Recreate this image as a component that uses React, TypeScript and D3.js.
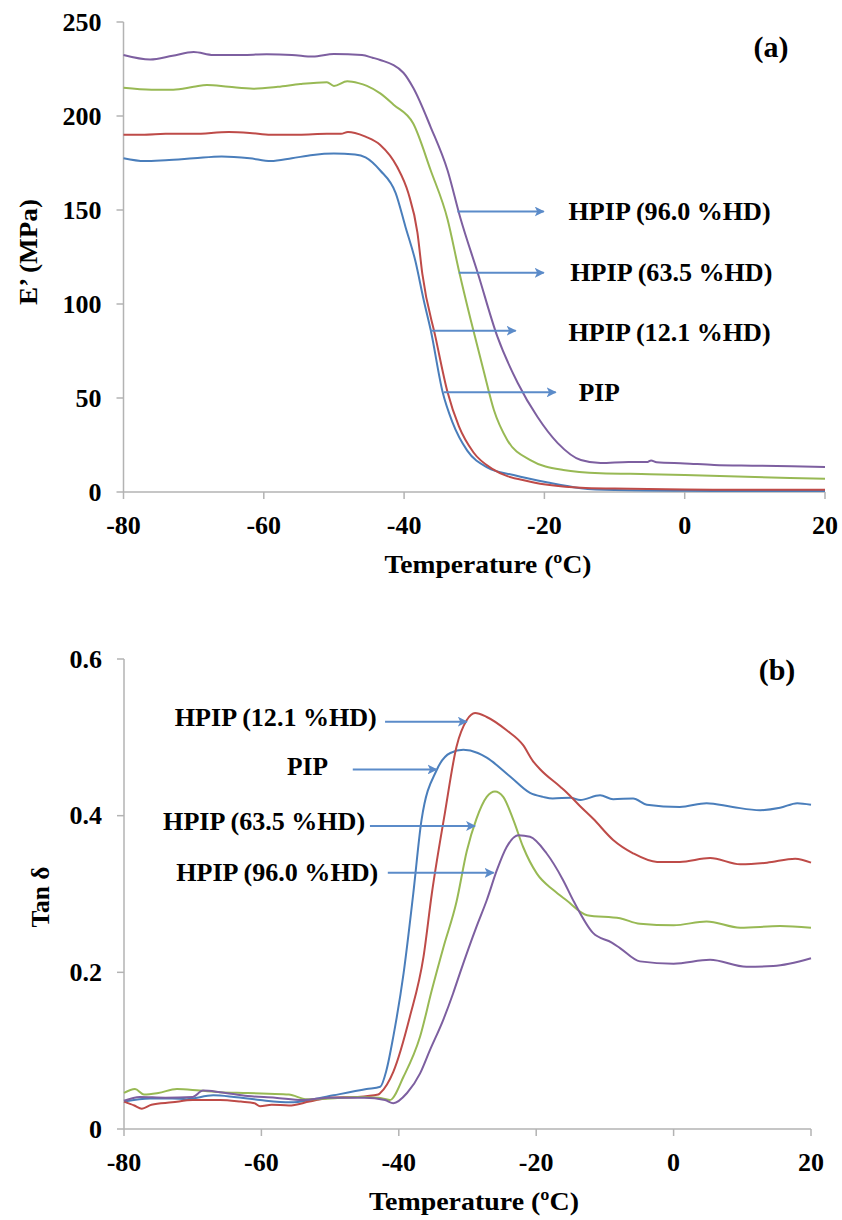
import React from "react";
import * as d3 from "d3";

// ---------- data ----------
const tempTicks = [-80, -60, -40, -20, 0, 20];
const modulusTicks = [0, 50, 100, 150, 200, 250];
const tanTicks = [0, 0.2, 0.4, 0.6];
const tanTickLabels = ["0", "0.2", "0.4", "0.6"];

const seriesNames = ["PIP", "HPIP (12.1 %HD)", "HPIP (63.5 %HD)", "HPIP (96.0 %HD)"];
const seriesColors = ["#4a7ebb", "#be4b48", "#98b954", "#7d5fa0"];

// E' (MPa) vs temperature: [T, E']
const modulusPIP: [number, number][] = [
  [-80, 177.5], [-77, 176], [-74, 176.5], [-70, 177.5], [-66, 178.5], [-62, 177.5], [-59, 176], [-56, 177.5],
  [-53, 179.3], [-50, 180], [-47, 179.5], [-45.5, 178], [-43.4, 171], [-41.2, 159], [-39.8, 141], [-38.4, 123],
  [-37.2, 102], [-36.2, 86], [-34.5, 53], [-33.1, 37], [-31, 22], [-28.1, 13], [-24.4, 9], [-19.5, 5],
  [-14.8, 2], [-10, 1], [0, 0.6], [10, 0.5], [20, 0.5],
];
const modulus121: [number, number][] = [
  [-80, 190], [-77, 190], [-74, 190.5], [-70, 190.5], [-65, 191.5], [-62, 191], [-59, 190], [-55, 190],
  [-51, 190.5], [-49, 190.5], [-48, 191.5], [-47, 191], [-45.5, 189], [-43.4, 184.6], [-41, 173], [-39.4, 159],
  [-38.1, 138], [-37.4, 116], [-35.5, 82], [-33.8, 53], [-32.2, 35], [-30.1, 21], [-27.3, 12], [-22, 5.5],
  [-14.8, 2.3], [-10, 1.8], [0, 1.3], [10, 1.2], [20, 1.2],
];
const modulus635: [number, number][] = [
  [-80, 215], [-76, 214], [-72.9, 214], [-70, 215.5], [-68.1, 216.5], [-65, 215.5], [-61.5, 214.5], [-58, 215.5],
  [-54.8, 217], [-51, 218], [-50, 216], [-48.1, 218.5], [-46.5, 217.5], [-45.3, 216], [-43.4, 212], [-41.5, 206],
  [-38.7, 196], [-36.2, 171], [-33.8, 145], [-32.2, 118], [-30.5, 91.5], [-28.7, 65], [-27.2, 43.6], [-25.3, 27.7],
  [-22, 17], [-17.3, 11.7], [-12, 10], [-5, 9.5], [0, 9], [10, 8], [20, 7],
];
const modulus960: [number, number][] = [
  [-80, 232.4], [-76.2, 230], [-73, 232], [-70, 234], [-67.2, 232.4], [-63, 232.5], [-59.6, 232.8], [-56, 232.5],
  [-53, 231.6], [-50, 233], [-46, 232.4], [-44.5, 231], [-43.4, 229.8], [-40.1, 223], [-38.7, 215], [-36.2, 194],
  [-33.8, 171], [-32, 146], [-29.5, 116.5], [-26.7, 82.6], [-23.8, 58], [-21, 40], [-18.1, 26], [-14.8, 17],
  [-12, 15.4], [-8, 16], [-5.3, 16], [-4.8, 16.8], [-4, 15.8], [0, 15.2], [4.2, 14.4], [10, 14], [20, 13.3],
];

// Tan delta vs temperature: [T, tan δ]
const tanPIP: [number, number][] = [
  [-80, 0.035], [-76.2, 0.039], [-73, 0.039], [-70.9, 0.038], [-67, 0.043], [-64, 0.041], [-60.2, 0.037],
  [-55.8, 0.034], [-52.4, 0.038], [-49.5, 0.043], [-44.7, 0.051], [-42.7, 0.054], [-41.8, 0.075], [-40.8, 0.118],
  [-39.3, 0.199], [-37.9, 0.3], [-36.7, 0.394], [-34.5, 0.458], [-32.5, 0.48], [-30.6, 0.484], [-28.5, 0.48],
  [-27.2, 0.474], [-23.8, 0.45], [-20.9, 0.429], [-19, 0.424], [-17.6, 0.422], [-15, 0.423], [-13.6, 0.42],
  [-10.7, 0.426], [-8.8, 0.421], [-5.9, 0.422], [-3.9, 0.414], [0.9, 0.411], [4.8, 0.416], [8.6, 0.411],
  [12.6, 0.407], [15.5, 0.41], [18, 0.416], [20, 0.414],
];
const tan121: [number, number][] = [
  [-80, 0.035], [-78.5, 0.03], [-77.4, 0.026], [-76, 0.031], [-73, 0.034], [-70, 0.037], [-66, 0.037],
  [-63, 0.035], [-61, 0.033], [-60.2, 0.029], [-58.5, 0.031], [-56, 0.03], [-53, 0.035], [-50, 0.04],
  [-46, 0.041], [-43, 0.044], [-42.7, 0.046], [-40.8, 0.073], [-38.4, 0.143], [-36.4, 0.22], [-35.2, 0.3],
  [-33.3, 0.403], [-31.6, 0.488], [-30.1, 0.522], [-28.9, 0.531], [-27.2, 0.526], [-24.3, 0.509], [-21.9, 0.49],
  [-20.5, 0.47], [-19.4, 0.459], [-16.5, 0.437], [-15.6, 0.43], [-13.6, 0.412], [-11.7, 0.396], [-8.8, 0.369],
  [-5.9, 0.352], [-2.4, 0.341], [0.9, 0.341], [5.3, 0.346], [9.7, 0.338], [13.6, 0.34], [17.7, 0.345], [20, 0.34],
];
const tan635: [number, number][] = [
  [-80, 0.046], [-78.4, 0.051], [-77.1, 0.044], [-75, 0.046], [-72.3, 0.051], [-69, 0.049], [-66, 0.047],
  [-62, 0.046], [-59, 0.045], [-56, 0.044], [-53.4, 0.038], [-50, 0.039], [-46, 0.041], [-43, 0.04],
  [-41.3, 0.037], [-39.3, 0.067], [-36.9, 0.118], [-35.2, 0.177], [-33.5, 0.232], [-31.6, 0.29], [-30.1, 0.355],
  [-28.7, 0.396], [-27.2, 0.424], [-26, 0.431], [-24.8, 0.424], [-23.3, 0.394], [-21.9, 0.36], [-19.9, 0.326],
  [-17.5, 0.305], [-15.6, 0.292], [-12.6, 0.273], [-7.8, 0.269], [-4.9, 0.262], [0, 0.26], [4.8, 0.265],
  [9.7, 0.257], [15.5, 0.259], [20, 0.257],
];
const tan960: [number, number][] = [
  [-80, 0.036], [-77.7, 0.041], [-74, 0.04], [-70, 0.041], [-68.5, 0.049], [-66, 0.047], [-62, 0.042],
  [-58, 0.04], [-54, 0.037], [-50, 0.04], [-45, 0.04], [-42, 0.037], [-40.8, 0.033], [-38.8, 0.046],
  [-36.9, 0.071], [-35.5, 0.1], [-33.5, 0.14], [-32.1, 0.173], [-31.1, 0.199], [-28.7, 0.258], [-27.2, 0.292],
  [-25.7, 0.331], [-24.3, 0.36], [-22.6, 0.375], [-20.9, 0.373], [-18.5, 0.352], [-16.1, 0.318], [-14.5, 0.29],
  [-11.7, 0.25], [-9, 0.238], [-7.8, 0.231], [-4.9, 0.214], [0, 0.211], [5.3, 0.216], [10.6, 0.207],
  [14.5, 0.208], [20, 0.218],
];

const modulusSeries = [modulusPIP, modulus121, modulus635, modulus960];
const tanSeries = [tanPIP, tan121, tan635, tan960];

// annotations, in data units: [series index, arrow start T, arrow end T, arrow value, text T, text value]
const modulusNotes: [number, number, number, number, number, number][] = [
  [3, -32.4, -20.1, 149.2, -16.55, 144.7],
  [2, -32.2, -20.1, 116.6, -16.3, 112.2],
  [1, -36.25, -24.1, 85.8, -16.55, 80.3],
  [0, -34.35, -18.4, 53.0, -15.1, 48.4],
];
const tanNotes: [number, number, number, number, number, number][] = [
  [1, -42.0, -30.1, 0.52, -43.2, 0.5145],
  [0, -46.7, -34.5, 0.459, -50.3, 0.452],
  [2, -44.2, -28.9, 0.3868, -44.9, 0.3817],
  [3, -41.6, -26.2, 0.327, -43.0, 0.3166],
];

// ---------- layout ----------
const FONT = "Times New Roman, Liberation Serif, Tinos, DejaVu Serif, serif";
const AXIS = "#b3b3b3";
const ARROW = "#5b8bc9";
const LABEL_LEN = 202; // rendered width of the long series labels
const PIP_LEN = 41;

export default function App() {
  const xTop = d3.scaleLinear().domain([-80, 20]).range([123.5, 825]);
  const yTop = d3.scaleLinear().domain([0, 250]).range([492, 22]);
  const xBot = d3.scaleLinear().domain([-80, 20]).range([124, 811]);
  const yBot = d3.scaleLinear().domain([0, 0.6]).range([1129, 659]);

  const lineTop = d3.line<[number, number]>().x((d) => xTop(d[0])).y((d) => yTop(d[1])).curve(d3.curveMonotoneX);
  const lineBot = d3.line<[number, number]>().x((d) => xBot(d[0])).y((d) => yBot(d[1])).curve(d3.curveMonotoneX);

  const txt = { fontSize: 26, fontWeight: "bold" as const, fontFamily: FONT };

  const axes = (
    x: d3.ScaleLinear<number, number>,
    y: d3.ScaleLinear<number, number>,
    yTicks: number[],
    yLabels: string[],
    key: string
  ) => {
    const [x0, x1] = x.range();
    const [y0, y1] = y.range();
    return (
      <g key={key}>
        <line x1={x0} x2={x0} y1={y1} y2={y0} stroke={AXIS} strokeWidth={1.5} />
        <line x1={x0} x2={x1} y1={y0} y2={y0} stroke={AXIS} strokeWidth={1.5} />
        {yTicks.map((t, i) => (
          <g key={"y" + i}>
            <line x1={x0 - 7} x2={x0} y1={y(t)} y2={y(t)} stroke={AXIS} strokeWidth={1.5} />
            <text x={x0 - 22} y={y(t) + 8.5} textAnchor="end" style={txt}>
              {yLabels[i]}
            </text>
          </g>
        ))}
        {tempTicks.map((t) => (
          <g key={"x" + t}>
            <line x1={x(t)} x2={x(t)} y1={y0} y2={y0 + 7} stroke={AXIS} strokeWidth={1.5} />
            <text x={x(t)} y={y0 + 41.5} textAnchor="middle" style={txt}>
              {String(t)}
            </text>
          </g>
        ))}
      </g>
    );
  };

  const labelLen = (i: number) => (i === 0 ? PIP_LEN : LABEL_LEN);

  return (
    <svg width={842} height={1220} style={{ position: "absolute", left: 0, top: 0, background: "#fff" }}>
      <defs>
        <marker id="arr" viewBox="0 0 10 10" refX={9} refY={5} markerWidth={5} markerHeight={5} orient="auto" markerUnits="strokeWidth">
          <path d="M0,0 L10,5 L0,10 L2.5,5 z" fill={ARROW} />
        </marker>
      </defs>

      {/* ---------- panel (a) ---------- */}
      {axes(xTop, yTop, modulusTicks, modulusTicks.map(String), "axA")}
      {modulusSeries.map((s, i) => (
        <path key={"mA" + i} d={lineTop(s) || ""} fill="none" stroke={seriesColors[i]} strokeWidth={2} />
      ))}
      {modulusNotes.map((n, i) => (
        <g key={"nA" + i}>
          <line x1={xTop(n[1])} x2={xTop(n[2])} y1={yTop(n[3])} y2={yTop(n[3])} stroke={ARROW} strokeWidth={2} markerEnd="url(#arr)" />
          <text x={xTop(n[4])} y={yTop(n[5])} style={txt} textLength={labelLen(n[0])} lengthAdjust="spacingAndGlyphs">
            {seriesNames[n[0]]}
          </text>
        </g>
      ))}
      <text x={771} y={57} textAnchor="middle" style={{ ...txt, fontSize: 30 }}>(a)</text>
      <text x={488} y={573} textAnchor="middle" style={txt} textLength={207} lengthAdjust="spacingAndGlyphs">Temperature (ºC)</text>
      <text transform="translate(37,252) rotate(-90)" textAnchor="middle" style={txt} textLength={106} lengthAdjust="spacingAndGlyphs">E’ (MPa)</text>

      {/* ---------- panel (b) ---------- */}
      {axes(xBot, yBot, tanTicks, tanTickLabels, "axB")}
      {tanSeries.map((s, i) => (
        <path key={"mB" + i} d={lineBot(s) || ""} fill="none" stroke={seriesColors[i]} strokeWidth={2} />
      ))}
      {tanNotes.map((n, i) => (
        <g key={"nB" + i}>
          <line x1={xBot(n[1])} x2={xBot(n[2])} y1={yBot(n[3])} y2={yBot(n[3])} stroke={ARROW} strokeWidth={2} markerEnd="url(#arr)" />
          <text x={xBot(n[4])} y={yBot(n[5])} textAnchor="end" style={txt} textLength={labelLen(n[0])} lengthAdjust="spacingAndGlyphs">
            {seriesNames[n[0]]}
          </text>
        </g>
      ))}
      <text x={777} y={680} textAnchor="middle" style={{ ...txt, fontSize: 30 }}>(b)</text>
      <text x={474} y={1210} textAnchor="middle" style={txt} textLength={210} lengthAdjust="spacingAndGlyphs">Temperature (ºC)</text>
      <text transform="translate(49,897) rotate(-90)" textAnchor="middle" style={txt} textLength={61} lengthAdjust="spacingAndGlyphs">Tan δ</text>
    </svg>
  );
}
